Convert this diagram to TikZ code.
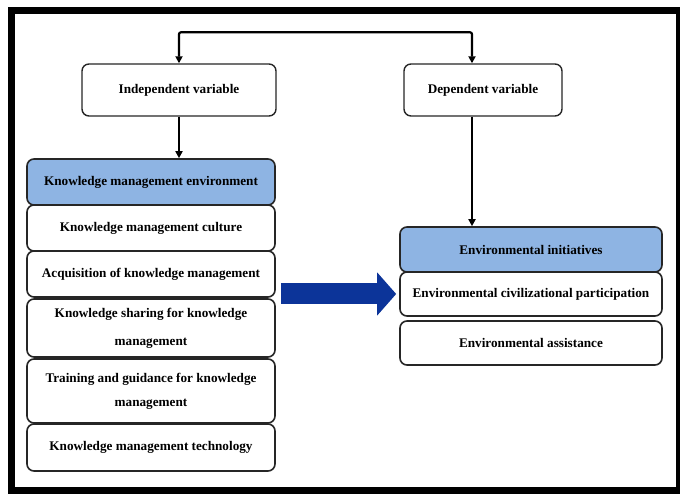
\documentclass[tikz,border=0pt]{standalone}
\usepackage{fontspec}
\setmainfont{Liberation Serif}
\usetikzlibrary{positioning, arrows.meta}
\definecolor{headblue}{HTML}{8EB4E3}
\definecolor{arrowblue}{HTML}{0C3499}
\definecolor{boxline}{HTML}{262626}

\begin{document}
\begin{tikzpicture}[
    x=1pt, y=1pt,
    box/.style={rectangle, draw=boxline, line width=1.6pt, rounded corners=7pt,
                align=center, inner sep=2pt, fill=white,
                font=\fontsize{13.2}{24}\selectfont\bfseries},
    var/.style={box, line width=1.4pt, minimum height=52pt},
    leftbox/.style={box, minimum width=248pt},
    rightbox/.style={box, minimum width=262pt},
    head/.style={fill=headblue},
    tip/.tip={Triangle[length=7pt, width=7pt]},
    link/.style={-tip, line width=2.2pt, black},
    bigarrow/.style={-{Triangle[length=19pt, width=42pt]}, line width=21pt, arrowblue}
]
  \useasboundingbox (0,0) rectangle (680,494);

  % Outer frame
  \draw[line width=7pt] (11,483) rectangle (679,3);

  % Variables
  \node[var, minimum width=194pt] (indep) at (179,404) {Independent variable};
  \node[var, minimum width=158pt] (dep) at (483,404) {Dependent variable};

  % Left stack
  \node[leftbox, head, minimum height=46pt] (kmenv) at (151,312) {Knowledge management environment};
  \node[leftbox, minimum height=46pt] (culture) at (151,266) {Knowledge management culture};
  \node[leftbox, minimum height=46pt] (acq) at (151,220) {Acquisition of knowledge management};
  \node[leftbox, minimum height=58pt] (sharing) at (151,166) {Knowledge sharing for knowledge\\[4pt]management};
  \node[leftbox, minimum height=64pt] (training) at (151,103) {Training and guidance for knowledge\\management};
  \node[leftbox, minimum height=47pt] (tech) at (151,46.5) {Knowledge management technology};

  % Right stack
  \node[rightbox, head, minimum height=45pt] (init) at (531,244.5) {Environmental initiatives};
  \node[rightbox, minimum height=44pt] (civ) at (531,200) {Environmental civilizational participation};
  \node[rightbox, minimum height=44pt] (assist) at (531,151) {Environmental assistance};

  % Edges
  \draw[link, tip-tip, rounded corners=2pt] (indep.north) -- ++(0,31) -| ([xshift=-11pt]dep.north);
  \draw[link] (indep.south) -- (indep.south |- kmenv.north);
  \draw[link] ([xshift=-11pt]dep.south) -- ([xshift=-11pt]dep.south |- init.north);

  % Big arrow between the stacks
  \draw[bigarrow, shorten <=5pt, shorten >=3pt] (acq.east |- civ.west) -- (civ.west);
\end{tikzpicture}
\end{document}
